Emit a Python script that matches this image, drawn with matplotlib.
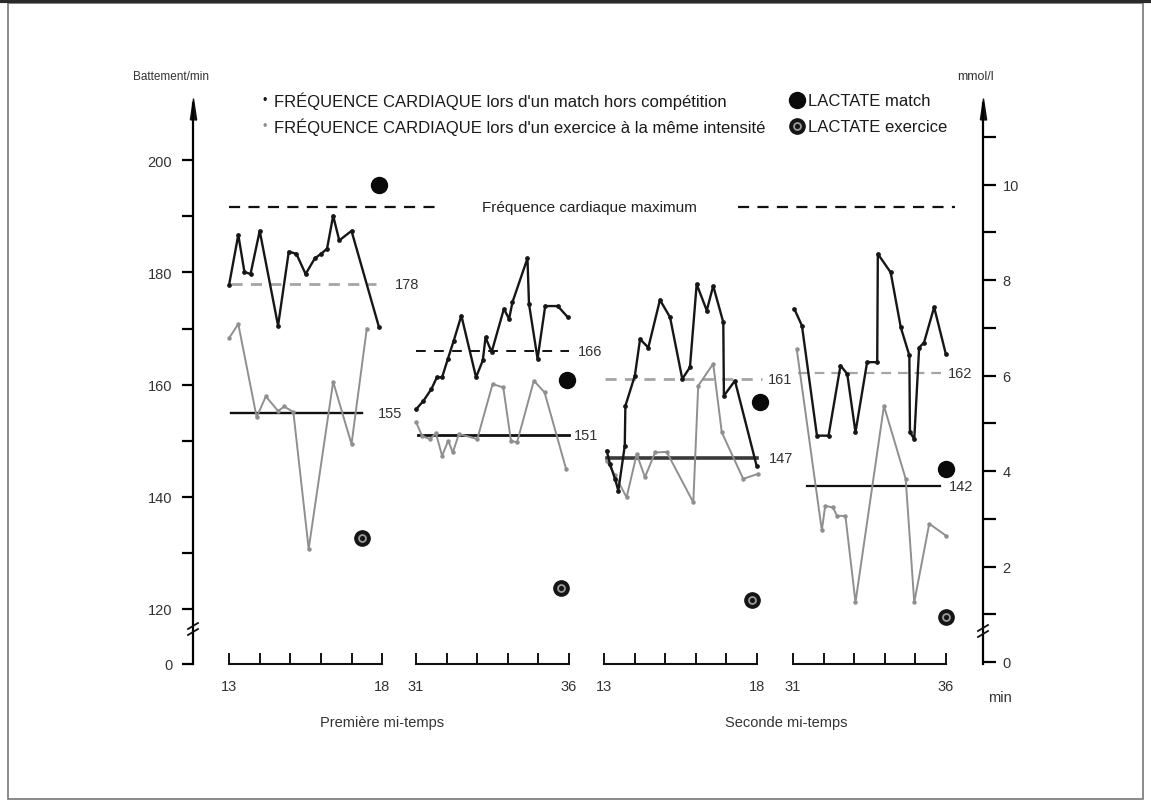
import matplotlib
matplotlib.use("Agg")
import matplotlib.pyplot as plt
from matplotlib.lines import Line2D
from matplotlib.patches import Rectangle
import numpy as np

plt.rcParams['font.family'] = ['Liberation Sans Narrow', 'Liberation Sans', 'DejaVu Sans']
plt.rcParams['lines.scale_dashes'] = False

# heart rate (bpm) during a friendly match and during exercise at the same intensity
# four 5-minute windows: 13-18 and 31-36 min of each half
t1_match = [13.0, 13.3, 13.5, 13.7, 14.0, 14.6, 14.95, 15.2, 15.5, 15.8, 16.0, 16.2, 16.4, 16.6, 17.0, 17.9]
hr1_match = [177.8, 186.7, 180.1, 179.7, 187.4, 170.5, 183.7, 183.3, 179.7, 182.5, 183.3, 184.2, 190.1, 185.7, 187.4, 170.2]
t1_ex = [13.0, 13.3, 13.9, 14.2, 14.6, 14.8, 15.1, 15.6, 16.4, 17.0, 17.5]
hr1_ex = [168.3, 170.8, 154.2, 157.9, 155.3, 156.1, 155.1, 130.7, 160.5, 149.4, 170.0]

t2_match = [31.0, 31.24, 31.5, 31.68, 31.85, 32.04, 32.23, 32.48, 32.96, 33.18, 33.27, 33.47, 33.87, 34.04,
            34.15, 34.64, 34.69, 34.97, 35.22, 35.63, 35.96]
hr2_match = [155.6, 157.1, 159.2, 161.3, 161.3, 164.6, 167.8, 172.3, 161.3, 164.3, 168.4, 165.8, 173.5, 171.7,
             174.7, 182.5, 174.4, 164.6, 174.0, 174.0, 172.0]
t2_ex = [31.0, 31.2, 31.45, 31.65, 31.85, 32.05, 32.2, 32.4, 33.0, 33.5, 33.85, 34.1, 34.3, 34.85, 35.2, 35.9]
hr2_ex = [153.3, 150.8, 150.3, 151.3, 147.3, 150.0, 147.9, 151.2, 150.3, 160.1, 159.5, 150.0, 149.7, 160.7, 158.6, 145.0]

t3_match = [13.09, 13.2, 13.36, 13.47, 13.68, 13.7, 14.01, 14.18, 14.45, 14.83, 15.16, 15.56, 15.81, 16.03,
            16.36, 16.57, 16.9, 16.92, 17.28, 17.99]
hr3_match = [148.2, 145.8, 143.2, 141.1, 149.1, 156.2, 161.6, 168.1, 166.6, 175.1, 172.0, 161.0, 163.1, 177.9,
             173.2, 177.6, 171.1, 158.0, 160.7, 145.5]
t3_ex = [13.09, 13.36, 13.74, 14.07, 14.34, 14.67, 15.05, 15.92, 16.08, 16.57, 16.85, 17.55, 18.04]
hr3_ex = [146.4, 143.8, 139.9, 147.6, 143.5, 147.9, 148.0, 139.0, 159.8, 163.7, 151.5, 143.2, 144.1]

t4_match = [31.04, 31.29, 31.78, 32.16, 32.55, 32.77, 33.04, 33.42, 33.75, 33.77, 34.19, 34.52, 34.8, 34.82,
            34.96, 35.12, 35.28, 35.61, 35.99]
hr4_match = [173.5, 170.5, 150.9, 150.9, 163.4, 161.9, 151.5, 164.0, 164.0, 183.3, 180.0, 170.2, 165.2, 151.5,
             150.3, 166.6, 167.5, 173.8, 165.5]
t4_ex = [31.12, 31.94, 32.05, 32.3, 32.44, 32.71, 33.04, 33.97, 34.68, 34.96, 35.45, 35.99]
hr4_ex = [166.3, 134.0, 138.4, 138.1, 136.6, 136.6, 121.2, 156.2, 143.2, 121.2, 135.2, 133.1]

# mean heart rate per window
mean_match = [178, 166, 161, 162]
mean_ex = [155, 151, 147, 142]
max_hr = 191.6

# blood lactate (mmol/l) at the end of each window
lac_match = [10.0, 5.9, 5.45, 4.05]
lac_match_t = [17.9, 35.93, 18.1, 36.0]
lac_ex = [2.6, 1.55, 1.3, 0.95]
lac_ex_t = [17.35, 35.74, 17.84, 36.0]

seg_first = [13, 31, 13, 31]
seg_ticks = ['13', '18', '31', '36', '13', '18', '31', '36']
halves = ['Première mi-temps', 'Seconde mi-temps']

# layout: where each 5-min window sits along the shared x axis
seg_offset = [1.18, 7.29, 13.43, 19.61]
mean_match_span = [(13.05, 17.8), (31.0, 36.0), (13.05, 18.15), (31.15, 35.85)]
mean_ex_span = [(13.05, 17.35), (31.05, 36.0), (13.1, 18.0), (31.45, 35.8)]
lab_dx = [(0.62, 0.52), (0.3, 0.15), (0.22, 0.4), (0.2, 0.3)]


def X(i, t):
    return seg_offset[i] + (np.asarray(t, dtype=float) - seg_first[i])


W, H = 1151, 803
fig = plt.figure(figsize=(W / 100, H / 100), dpi=100)


def fx(px):
    return px / W


def fy(py):
    return 1 - py / H


top_px, bot_px = 104, 665
ax = fig.add_axes([fx(193), fy(bot_px), fx(983) - fx(193), fy(top_px) - fy(bot_px)])
ax2 = ax.twinx()

ybot = 120 + (610 - bot_px) / 5.61
ytop = 120 + (610 - top_px) / 5.61
ax.set_ylim(ybot, ytop)
ax2.set_ylim((663 - bot_px) / 47.75, (663 - top_px) / 47.75)
ax.set_xlim(0, (983 - 193) / 30.6)

for a in (ax, ax2):
    a.spines['top'].set_visible(False)
    a.spines['bottom'].set_visible(False)
    a.set_xticks([])
ax.spines['right'].set_visible(False)
ax2.spines['left'].set_visible(False)
ax.spines['left'].set_linewidth(1.6)
ax2.spines['right'].set_linewidth(1.6)

ax.set_yticks([ybot, 120, 140, 160, 180, 200], ['0', '120', '140', '160', '180', '200'])
ax.set_yticks([130, 150, 170, 190], minor=True)
ax.tick_params(axis='y', which='both', direction='out', length=8, width=1.6, pad=7, labelsize=10.5,
               labelcolor='#333333')
ax2.set_yticks([0, 2, 4, 6, 8, 10])
ax2.set_yticks([1, 3, 5, 7, 9, 11], minor=True)
ax2.tick_params(axis='y', which='both', direction='out', length=9, width=1.6, pad=5, labelsize=10.5,
                labelcolor='#333333')

# arrow heads on both vertical axes
arrow = [(-0.3, -1.0), (0.3, -1.0), (0.0, 1.0), (-0.3, -1.0)]
for xa in (0, 1):
    ax.plot([xa], [1.0 - 6 / (bot_px - top_px)], transform=ax.transAxes, marker=arrow, ms=15,
            color='#111111', clip_on=False)

# axis breaks
for xp, yp in ((193, 630), (983, 632)):
    for dy in (-3, 3):
        fig.add_artist(Line2D([fx(xp - 5), fx(xp + 5)], [fy(yp + dy + 3), fy(yp + dy - 3)],
                              color='#111111', lw=1.3, transform=fig.transFigure))

match_series = [(t1_match, hr1_match), (t2_match, hr2_match), (t3_match, hr3_match), (t4_match, hr4_match)]
ex_series = [(t1_ex, hr1_ex), (t2_ex, hr2_ex), (t3_ex, hr3_ex), (t4_ex, hr4_ex)]
match_mean_style = [dict(color='#a5a5a5', lw=2.0, dashes=(8, 6)),
                    dict(color='#111111', lw=1.4, dashes=(7, 6)),
                    dict(color='#a5a5a5', lw=2.0, dashes=(8, 6)),
                    dict(color='#a5a5a5', lw=1.6, dashes=(7, 5))]
ex_mean_style = [dict(color='#111111', lw=1.7), dict(color='#111111', lw=2.0),
                 dict(color='#3a3a3a', lw=2.6), dict(color='#111111', lw=1.6)]

for i in range(4):
    tm, hm = match_series[i]
    te, he = ex_series[i]
    ax.plot(X(i, te), he, color='#8f8f8f', lw=1.4, marker='o', ms=2.2, zorder=3)
    ax.plot(X(i, tm), hm, color='#161616', lw=1.7, marker='o', ms=2.4, zorder=4)

    a0, a1 = mean_match_span[i]
    ax.plot(X(i, [a0, a1]), [mean_match[i]] * 2, zorder=2, **match_mean_style[i])
    ax.text(X(i, a1) + lab_dx[i][0], mean_match[i], str(mean_match[i]), va='center', ha='left',
            fontsize=10.5, color='#333333')
    b0, b1 = mean_ex_span[i]
    ax.plot(X(i, [b0, b1]), [mean_ex[i]] * 2, zorder=2, **ex_mean_style[i])
    ax.text(X(i, b1) + lab_dx[i][1], mean_ex[i], str(mean_ex[i]), va='center', ha='left',
            fontsize=10.5, color='#333333')

    # lactate, right axis
    ax2.plot(X(i, lac_match_t[i]), lac_match[i], marker='o', ms=11.5, color='#0a0a0a', ls='none', zorder=5)
    ax2.plot(X(i, lac_ex_t[i]), lac_ex[i], marker='o', ms=11, color='#151515', ls='none', zorder=5)
    ax2.plot(X(i, lac_ex_t[i]), lac_ex[i], marker='o', ms=5, mfc='none', mec='#9a9a9a', mew=1.3,
             ls='none', zorder=6)

    # time axis of the window
    mins = np.arange(seg_first[i], seg_first[i] + 6)
    ax.plot(X(i, [mins[0], mins[-1]]), [ybot, ybot], color='#111111', lw=1.5, clip_on=False)
    ax.vlines(X(i, mins), ybot, ybot + 1.9, color='#111111', lw=1.4, clip_on=False)
    ax.text(X(i, mins[0]), 106.2, seg_ticks[2 * i], ha='center', va='center', fontsize=10.5, color='#333333')
    ax.text(X(i, mins[-1]), 106.2, seg_ticks[2 * i + 1], ha='center', va='center', fontsize=10.5,
            color='#333333')

ax.text((1000 - 193) / 30.6, 104.3, 'min', ha='center', va='center', fontsize=10.5, color='#333333')
ax.text((382 - 193) / 30.6, 99.9, halves[0], ha='center', va='center', fontsize=10.5, color='#333333')
ax.text((786 - 193) / 30.6, 99.9, halves[1], ha='center', va='center', fontsize=10.5, color='#333333')

# maximum heart rate
ax.plot([(229 - 193) / 30.6, (440 - 193) / 30.6], [max_hr] * 2, color='#111111', lw=1.6, dashes=(8, 6))
ax.plot([(738 - 193) / 30.6, (955 - 193) / 30.6], [max_hr] * 2, color='#111111', lw=1.6, dashes=(8, 6))
ax.text((589 - 193) / 30.6, max_hr, 'Fréquence cardiaque maximum', ha='center', va='center',
        fontsize=11, color='#222222')

# axis titles
fig.text(fx(171), fy(77), 'Battement/min', ha='center', va='center', fontsize=8.5, color='#333333')
fig.text(fx(975), fy(77), 'mmol/l', ha='center', va='center', fontsize=9, color='#333333')

# key
fig.text(fx(265), fy(101), '•', ha='center', va='center', fontsize=9, color='#111111')
fig.text(fx(265), fy(127), '•', ha='center', va='center', fontsize=9, color='#8f8f8f')
fig.text(fx(274), fy(101), 'FRÉQUENCE CARDIAQUE lors d\'un match hors compétition', ha='left', va='center',
         fontsize=12, color='#1a1a1a')
fig.text(fx(274), fy(127), 'FRÉQUENCE CARDIAQUE lors d\'un exercice à la même intensité', ha='left',
         va='center', fontsize=12, color='#1a1a1a')
kx = (797 - 193) / 30.6
ax.plot([kx], [120 + (610 - 101) / 5.61], marker='o', ms=11.5, color='#0a0a0a', clip_on=False)
ax.plot([kx], [120 + (610 - 127) / 5.61], marker='o', ms=11, color='#151515', clip_on=False)
ax.plot([kx], [120 + (610 - 127) / 5.61], marker='o', ms=5, mfc='none', mec='#9a9a9a', mew=1.3,
        clip_on=False)
fig.text(fx(808), fy(101), 'LACTATE match', ha='left', va='center', fontsize=12, color='#1a1a1a')
fig.text(fx(808), fy(127), 'LACTATE exercice', ha='left', va='center', fontsize=12, color='#1a1a1a')

# scanned page frame
fig.add_artist(Rectangle((fx(8), fy(800)), fx(1143) - fx(8), fy(4) - fy(800), fill=False,
                         ec='#777777', lw=1.2, transform=fig.transFigure))
fig.add_artist(Line2D([0, 1], [fy(2), fy(2)], color='#2a2a2a', lw=3, transform=fig.transFigure))

fig.savefig('out.png', dpi=100)
